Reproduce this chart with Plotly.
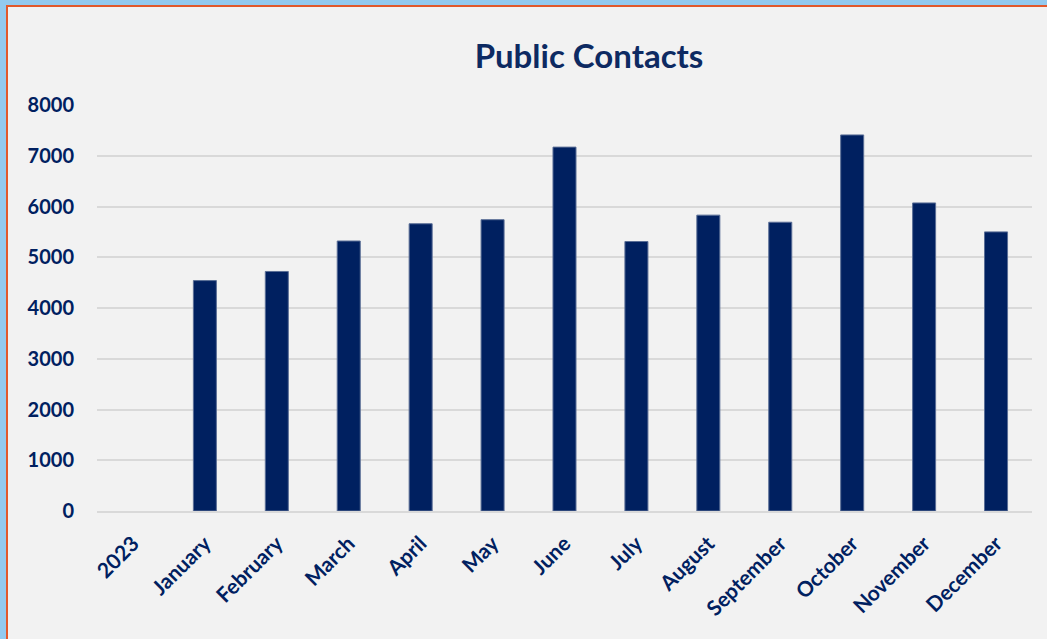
import plotly.graph_objects as go

categories = ["2023", "January", "February", "March", "April", "May", "June",
              "July", "August", "September", "October", "November", "December"]
contacts = [None, 4540, 4720, 5320, 5660, 5740, 7170, 5310, 5830, 5690, 7410, 6070, 5500]
y_ticks = [0, 1000, 2000, 3000, 4000, 5000, 6000, 7000, 8000]

W, H = 1047, 639
L, R, T, B = 97, 15, 105, 128
pw, ph = W - L - R, H - T - B

navy = "#002060"
font_family = "Lato, Carlito, Calibri, sans-serif"

fig = go.Figure(go.Bar(
    x=categories, y=contacts,
    marker=dict(color=navy, line=dict(color="#5a6e96", width=1)),
))

def px_to_paper_x(px):
    return (px - L) / pw

def px_to_paper_y(py):
    return (H - B - py) / ph

fig.add_shape(type="rect", xref="paper", yref="paper",
              x0=px_to_paper_x(7), x1=px_to_paper_x(W + 20),
              y0=px_to_paper_y(H + 20), y1=px_to_paper_y(6),
              fillcolor="#f2f2f2", line=dict(color="#e2582b", width=2), layer="below")

fig.update_layout(
    width=W, height=H,
    margin=dict(l=L, r=R, t=T, b=B, autoexpand=False),
    paper_bgcolor="#93c9ee",
    plot_bgcolor="rgba(0,0,0,0)",
    bargap=0.68,
    showlegend=False,
    title=dict(text="Public Contacts", x=589 / W, xanchor="center",
               y=1 - 56 / H, yanchor="middle",
               font=dict(family=font_family, size=33, color="#0d2a62", weight="bold")),
    xaxis=dict(tickangle=-45, tickfont=dict(family=font_family, size=21, color=navy, weight="bold"),
               showgrid=False, showline=True, linecolor="#d9d9d9", linewidth=2,
               ticks="", ticklabelstandoff=10),
    yaxis=dict(range=[0, 8000], tickvals=y_ticks,
               tickfont=dict(family=font_family, size=20, color=navy, weight="bold"),
               showgrid=True, gridcolor="#d9d9d9", gridwidth=2, zeroline=False,
               showline=False, ticks="", ticklabelstandoff=22),
)

fig.write_html("out.html", config={"displayModeBar": False},
               post_script="document.body.style.margin='0';document.body.style.overflow='hidden';")
